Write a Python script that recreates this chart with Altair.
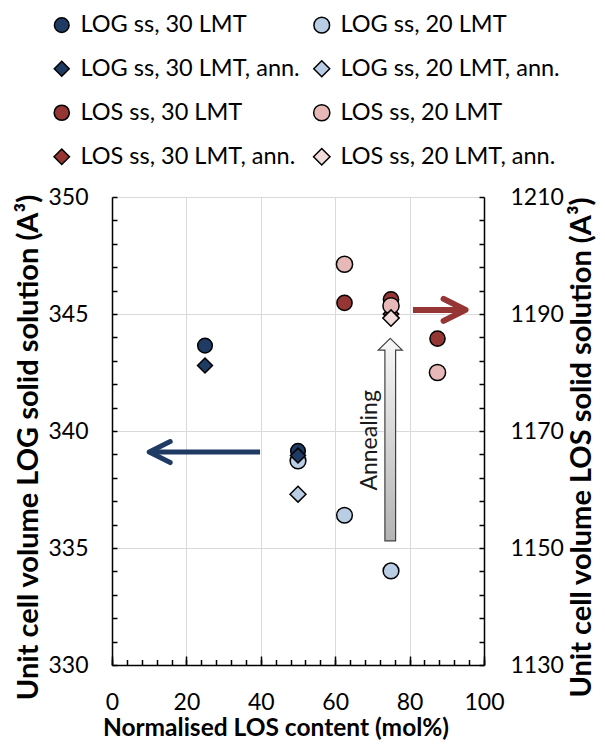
import altair as alt
import pandas as pd

W, H = 372, 468
FONT = "Lato"

# ---------------- legend / series definitions (column-major legend order) ----------------
series_names = [
    "LOG ss, 30 LMT", "LOG ss, 30 LMT, ann.",
    "LOS ss, 30 LMT", "LOS ss, 30 LMT, ann.",
    "LOG ss, 20 LMT", "LOG ss, 20 LMT, ann.",
    "LOS ss, 20 LMT", "LOS ss, 20 LMT, ann.",
]
series_fills = ["#1f3b63", "#1f3b63", "#963634", "#963634",
                "#b9cde5", "#b9cde5", "#e6b9b8", "#f2dcdb"]
series_strokes = ["#000000"] * 8
series_shapes = ["circle", "diamond", "circle", "diamond",
                 "circle", "diamond", "circle", "diamond"]
series_sizes = [215, 270, 215, 270, 215, 270, 215, 270]

# ---------------- data (x = normalised LOS content, mol%) ----------------
# LOG solid solution (left axis, A^3)
log20_x = [50, 62.5, 75]
log20_y = [338.72, 336.4, 334.02]
log20ann_x = [50]
log20ann_y = [337.3]
log30_x = [25, 50]
log30_y = [343.65, 339.15]
log30ann_x = [25, 50]
log30ann_y = [342.8, 338.95]
# LOS solid solution (right axis, A^3)
los30_x = [62.5, 75, 87.5]
los30_y = [1191.9, 1192.5, 1185.8]
los30ann_x = [75]
los30ann_y = [1190.0]
los20_x = [62.5, 75, 87.5]
los20_y = [1198.5, 1191.4, 1180.0]
los20ann_x = [75]
los20ann_y = [1189.3]

# ---------------- axis values ----------------
content_labels = [0, 20, 40, 60, 80, 100]
content_grid = [20, 40, 60, 80]
content_minor = list(range(0, 101, 4))
log_labels = [330, 335, 340, 345, 350]
log_grid = [335, 340, 345, 350]
log_minor = list(range(330, 351))
los_labels = [1130, 1150, 1170, 1190, 1210]
los_minor = list(range(1130, 1211, 4))

# ---------------- annotations ----------------
blue_arrow_x = [39.8, 10.6]
blue_arrow_y = [339.1]
blue_tip_x = [10.0]
red_arrow_x = [80.9, 94.4]
red_arrow_y = [1190.7]
red_tip_x = [95.05]
anneal_tip_x = [74.8]
anneal_tip_y = [343.96]
anneal_label = ["Annealing"]
anneal_label_x = [71.2]
anneal_label_y = [339.6]

X_TITLE = "Normalised LOS content (mol%)"
LEFT_TITLE = "Unit cell volume LOG solid solution (A³)"
RIGHT_TITLE = "Unit cell volume LOS solid solution (A³)"


def frame(groups):
    rows = []
    for name, xs_, ys_ in groups:
        for xv, yv in zip(xs_, ys_):
            rows.append({"x": xv, "y": yv, "series": name})
    return pd.DataFrame(rows)


log_df = frame([
    ("LOG ss, 20 LMT", log20_x, log20_y),
    ("LOG ss, 20 LMT, ann.", log20ann_x, log20ann_y),
    ("LOG ss, 30 LMT", log30_x, log30_y),
    ("LOG ss, 30 LMT, ann.", log30ann_x, log30ann_y),
])
los_df = frame([
    ("LOS ss, 30 LMT", los30_x, los30_y),
    ("LOS ss, 30 LMT, ann.", los30ann_x, los30ann_y),
    ("LOS ss, 20 LMT", los20_x, los20_y),
    ("LOS ss, 20 LMT, ann.", los20ann_x, los20ann_y),
])

xs = alt.Scale(domain=[0, 100], nice=False, zero=False)
ys_log = alt.Scale(domain=[330, 350], nice=False, zero=False)
ys_los = alt.Scale(domain=[1130, 1210], nice=False, zero=False)
fill_scale = alt.Scale(domain=series_names, range=series_fills)
stroke_scale = alt.Scale(domain=series_names, range=series_strokes)
shape_scale = alt.Scale(domain=series_names, range=series_shapes)
size_scale = alt.Scale(domain=series_names, range=series_sizes)

GRID = "#d9d9d9"

# ---------------- axes ----------------
axA = alt.Axis(orient="left", values=log_labels, ticks=False, domain=True,
               domainColor="black", domainWidth=1.5, grid=False, labelPadding=24,
               format="d",
               title=LEFT_TITLE, titleFontSize=29, titleFontWeight="bold",
               titleAngle=270, titleAlign="center", titleBaseline="alphabetic",
               titleX=-75, titleY=250)
axB = alt.Axis(orient="right", offset=-W, values=log_minor, ticks=True, tickSize=5,
               tickWidth=1.5, tickColor="black", labels=False, domain=False,
               grid=False, title=None)
axYgrid = alt.Axis(orient="left", values=log_grid, grid=True, gridColor=GRID,
                   gridWidth=1, ticks=False, labels=False, domain=False, title=None)
axE = alt.Axis(orient="bottom", values=content_labels, ticks=False, domain=True,
               domainColor="black", domainWidth=1.5, grid=False, labelPadding=26,
               format="d",
               title=X_TITLE, titleFontSize=24.5, titleFontWeight="bold",
               titleX=163.5, titleY=70, titleAlign="center",
               titleBaseline="alphabetic")
axF = alt.Axis(orient="top", offset=-H, values=content_minor, ticks=True,
               tickSize=5.5, tickWidth=1.5, tickColor="black", labels=False,
               domain=False, grid=False, title=None)
axG = alt.Axis(orient="top", offset=-H, values=content_labels, ticks=True,
               tickSize=9, tickWidth=1.5, tickColor="black", labels=False,
               domain=False, grid=False, title=None)
axH = alt.Axis(orient="bottom", values=content_grid, grid=True, gridColor=GRID,
               gridWidth=1, ticks=False, labels=False, domain=False, title=None)
axC = alt.Axis(orient="right", values=los_labels, ticks=False, domain=True,
               domainColor="black", domainWidth=1.5, grid=False, labelPadding=26,
               format="d",
               title=RIGHT_TITLE, titleFontSize=29, titleFontWeight="bold",
               titleAngle=270, titleAlign="center", titleBaseline="alphabetic",
               titleX=106, titleY=250)
axD = alt.Axis(orient="left", offset=-W, values=los_minor, ticks=True, tickSize=5,
               tickWidth=1.5, tickColor="black", labels=False, domain=False,
               grid=False, title=None)

leg = alt.Legend(orient="none", legendX=-62, legendY=-184, columns=2, title=None,
                 labelFontSize=23.5, labelFont=FONT, labelColor="#000", labelLimit=400,
                 symbolStrokeWidth=1.5,
                 symbolOpacity=1, rowPadding=19, columnPadding=10, labelOffset=7,
                 padding=0)

BLUE = "#1f3b63"
RED = "#963634"
LEFT_CHEVRON = "M 2 -1 L 0 0 L 2 1"
RIGHT_CHEVRON = "M -2 -1 L 0 0 L -2 1"
BLOCK_ARROW = ("M 0 0 L 1 0.975 L 0.446 0.975 L 0.446 16.87 "
               "L -0.446 16.87 L -0.446 0.975 L -1 0.975 Z")


def series_encoding():
    return dict(
        fill=alt.Fill("series:N", scale=fill_scale, legend=leg),
        stroke=alt.Stroke("series:N", scale=stroke_scale, legend=leg),
        shape=alt.Shape("series:N", scale=shape_scale, legend=leg),
        size=alt.Size("series:N", scale=size_scale, legend=leg),
    )


# ---------------- LOG group ----------------
log_points = alt.Chart(log_df).mark_point(
    filled=True, strokeWidth=1.5, opacity=1
).encode(
    x=alt.X("x:Q", scale=xs, axis=axE),
    y=alt.Y("y:Q", scale=ys_log, axis=axA),
    **series_encoding(),
)
log_ticks1 = alt.Chart(log_df).mark_point(opacity=0).encode(
    x=alt.X("x:Q", scale=xs, axis=axF),
    y=alt.Y("y:Q", scale=ys_log, axis=axB),
)
log_ticks2 = alt.Chart(log_df).mark_point(opacity=0).encode(
    x=alt.X("x:Q", scale=xs, axis=axG),
    y=alt.Y("y:Q", scale=ys_log, axis=None),
)
log_grid_layer = alt.Chart(log_df).mark_point(opacity=0).encode(
    x=alt.X("x:Q", scale=xs, axis=axH),
    y=alt.Y("y:Q", scale=ys_log, axis=axYgrid),
)

blue_shaft = alt.Chart(pd.DataFrame({
    "x": [blue_arrow_x[0]], "x2": [blue_arrow_x[1]], "y": blue_arrow_y
})).mark_rule(color=BLUE, strokeWidth=5).encode(
    x=alt.X("x:Q", scale=xs, axis=None), x2="x2:Q",
    y=alt.Y("y:Q", scale=ys_log, axis=None),
)
blue_head = alt.Chart(pd.DataFrame({"x": blue_tip_x, "y": blue_arrow_y})).mark_point(
    shape=LEFT_CHEVRON, size=441, filled=False, stroke=BLUE, strokeWidth=5,
    strokeJoin="round", strokeCap="round", opacity=1
).encode(
    x=alt.X("x:Q", scale=xs, axis=None),
    y=alt.Y("y:Q", scale=ys_log, axis=None),
)

grad = alt.LinearGradient(
    gradient="linear",
    stops=[alt.GradientStop(color="#f7f7f7", offset=0),
           alt.GradientStop(color="#b3b3b3", offset=1)],
    x1=0, x2=0, y1=0, y2=1,
)
anneal_arrow = alt.Chart(pd.DataFrame({"x": anneal_tip_x, "y": anneal_tip_y})).mark_point(
    shape=BLOCK_ARROW, size=576, filled=True, fill=grad, stroke="#404040",
    strokeWidth=1.2, opacity=1
).encode(
    x=alt.X("x:Q", scale=xs, axis=None),
    y=alt.Y("y:Q", scale=ys_log, axis=None),
)
anneal_text = alt.Chart(pd.DataFrame({
    "x": anneal_label_x, "y": anneal_label_y, "t": anneal_label
})).mark_text(angle=270, fontSize=23, font=FONT, align="center",
              baseline="alphabetic", color="#1a1a1a").encode(
    x=alt.X("x:Q", scale=xs, axis=None),
    y=alt.Y("y:Q", scale=ys_log, axis=None),
    text="t:N",
)

log_group = alt.layer(
    log_grid_layer, log_ticks1, log_ticks2, blue_shaft, blue_head,
    anneal_arrow, anneal_text, log_points
).resolve_axis(x="independent", y="independent")

# ---------------- LOS group ----------------
los_points = alt.Chart(los_df).mark_point(
    filled=True, strokeWidth=1.5, opacity=1
).encode(
    x=alt.X("x:Q", scale=xs, axis=None),
    y=alt.Y("y:Q", scale=ys_los, axis=axC),
    **series_encoding(),
)
los_ticks = alt.Chart(los_df).mark_point(opacity=0).encode(
    x=alt.X("x:Q", scale=xs, axis=None),
    y=alt.Y("y:Q", scale=ys_los, axis=axD),
)
red_shaft = alt.Chart(pd.DataFrame({
    "x": [red_arrow_x[0]], "x2": [red_arrow_x[1]], "y": red_arrow_y
})).mark_rule(color=RED, strokeWidth=6).encode(
    x=alt.X("x:Q", scale=xs, axis=None), x2="x2:Q",
    y=alt.Y("y:Q", scale=ys_los, axis=None),
)
red_head = alt.Chart(pd.DataFrame({"x": red_tip_x, "y": red_arrow_y})).mark_point(
    shape=RIGHT_CHEVRON, size=484, filled=False, stroke=RED, strokeWidth=6,
    strokeJoin="round", strokeCap="round", opacity=1
).encode(
    x=alt.X("x:Q", scale=xs, axis=None),
    y=alt.Y("y:Q", scale=ys_los, axis=None),
)

los_group = alt.layer(los_ticks, red_shaft, red_head, los_points).resolve_axis(
    y="independent")

chart = alt.layer(log_group, los_group).resolve_scale(
    y="independent"
).resolve_axis(
    x="independent", y="independent"
).properties(
    width=W, height=H,
    padding={"left": 104, "top": 189, "right": 113, "bottom": 77},
    autosize=alt.AutoSizeParams(type="none"),
).configure(
    font=FONT
).configure_view(
    strokeWidth=0
).configure_axis(
    labelFont=FONT, labelFontSize=23, labelColor="#000", titleFont=FONT,
    titleColor="#000", labelFlush=False, labelOverlap=False
)

chart.save("out.html", embed_options={"renderer": "svg", "actions": False})
